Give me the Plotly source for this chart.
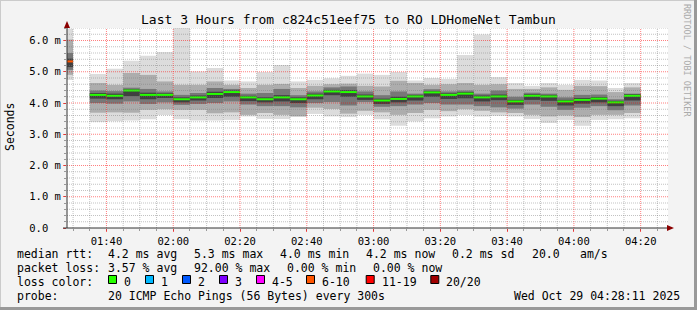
import plotly.graph_objects as go
import pandas as pd

# ---------------- data (values in milliseconds) ----------------
# 5-minute intervals starting 01:25; index 1 (01:30-01:35) has no data
interval_start = pd.date_range("2025-10-29 01:25:00", periods=35, freq="5min")

ping_max = [6.38, None, 4.93, 5.10, 5.35, 5.51, 5.63, 6.40, 5.01, 5.12, 4.72, 4.69, 4.99, 5.22,
            4.69, 4.74, 4.79, 4.87, 4.94, 4.90, 4.99, 4.72, 4.80, 4.77, 5.54, 6.19, 4.83, 4.64,
            4.55, 4.64, 4.58, 4.74, 4.72, 4.48, 4.64]
ping_p90 = [6.03, None, 4.64, 4.58, 4.96, 4.90, 4.69, 4.58, 4.58, 4.69, 4.58, 4.48, 4.58, 4.61,
            4.48, 4.55, 4.60, 4.62, 4.55, 4.53, 4.71, 4.64, 4.58, 4.60, 4.64, 4.58, 4.60, 4.45,
            4.45, 4.50, 4.42, 4.55, 4.54, 4.35, 4.50]
ping_p75 = [5.60, None, 4.40, 4.38, 4.49, 4.45, 4.37, 4.26, 4.32, 4.48, 4.45, 4.30, 4.32, 4.45,
            4.25, 4.37, 4.50, 4.53, 4.37, 4.25, 4.37, 4.30, 4.44, 4.37, 4.40, 4.30, 4.40, 4.20,
            4.33, 4.30, 4.18, 4.26, 4.27, 4.12, 4.30]
ping_p60 = [5.42, None, 4.32, 4.30, 4.44, 4.33, 4.31, 4.18, 4.24, 4.36, 4.40, 4.23, 4.18, 4.25,
            4.18, 4.30, 4.42, 4.41, 4.27, 4.14, 4.20, 4.26, 4.38, 4.31, 4.35, 4.24, 4.27, 4.10,
            4.28, 4.26, 4.10, 4.16, 4.19, 4.07, 4.28]
median   = [5.33, None, 4.26, 4.23, 4.40, 4.26, 4.26, 4.12, 4.18, 4.29, 4.35, 4.18, 4.12, 4.18,
            4.12, 4.24, 4.37, 4.35, 4.21, 4.08, 4.13, 4.21, 4.34, 4.26, 4.30, 4.18, 4.21, 4.05,
            4.23, 4.21, 4.05, 4.10, 4.14, 4.02, 4.23]
ping_p40 = [5.15, None, 4.14, 4.12, 4.22, 4.12, 4.16, 4.02, 4.08, 4.16, 4.20, 4.06, 4.02, 4.05,
            4.00, 4.12, 4.25, 4.20, 4.10, 3.97, 4.02, 4.08, 4.20, 4.13, 4.15, 4.05, 4.09, 3.94,
            4.10, 4.07, 3.92, 3.98, 4.02, 3.90, 4.08]
ping_p25 = [5.06, None, 4.00, 3.98, 4.05, 3.97, 4.02, 3.94, 3.97, 4.00, 4.05, 3.95, 3.90, 3.90,
            3.86, 4.00, 4.03, 3.92, 4.03, 3.88, 3.90, 3.95, 4.00, 3.95, 3.95, 3.90, 3.86, 3.82,
            3.95, 3.88, 3.78, 3.85, 3.90, 3.77, 3.92]
ping_p10 = [4.90, None, 3.69, 3.70, 3.69, 3.78, 3.80, 3.78, 3.78, 3.67, 3.70, 3.62, 3.68, 3.62,
            3.57, 3.85, 3.81, 3.66, 3.75, 3.70, 3.62, 3.68, 3.78, 3.74, 3.80, 3.75, 3.70, 3.68,
            3.62, 3.57, 3.60, 3.55, 3.62, 3.62, 3.68]
ping_min = [4.74, None, 3.39, 3.42, 3.44, 3.48, 3.62, 3.48, 3.44, 3.44, 3.46, 3.57, 3.49, 3.49,
            3.57, 3.65, 3.57, 3.55, 3.62, 3.48, 3.27, 3.41, 3.51, 3.57, 3.62, 3.57, 3.59, 3.57,
            3.49, 3.36, 3.46, 3.27, 3.46, 3.48, 3.51]
# lost pings (of 20) per interval
lost = [8, None, 0, 0, 0, 0, 0, 0, 0, 0, 0, 0, 0, 0, 0, 0, 0, 0, 0, 0, 0, 0, 0, 0, 0, 0, 0, 0,
        0, 0, 0, 0, 0, 0, 0]

y_tick_vals = [0, 1, 2, 3, 4, 5, 6]
y_tick_text = ["0.0\u00a0\u00a0", "1.0 m", "2.0 m", "3.0 m", "4.0 m", "5.0 m", "6.0 m"]
x_tick_text = ["01:40", "02:00", "02:20", "02:40", "03:00", "03:20", "03:40", "04:00", "04:20"]

loss_labels = ["0", "1", "2", "3", "4-5", "6-10", "11-19", "20/20"]
loss_colors = ["#26ff00", "#00b8ff", "#0059ff", "#7e00ff", "#ff00ff", "#ff5500", "#ff0000", "#a10000"]
loss_upper = [0, 1, 2, 3, 5, 10, 19, 20]

title_text = "Last 3 Hours from c824c51eef75 to RO LDHomeNet Tambun"
legend_rows = [
    [(16, "median rtt:"), (107, "4.2 ms avg"), (193, "5.3 ms max"), (279, "4.0 ms min"),
     (365, "4.2 ms now"), (451, "0.2 ms sd"), (530.7, "20.0"), (579, "am/s")],
    [(16, "packet loss:"), (107, "3.57 % avg"), (193, "92.00 % max"), (286, "0.00 % min"),
     (372, "0.00 % now")],
    [(16, "loss color:")],
    [(16, "probe:"), (107, "20 ICMP Echo Pings (56 Bytes) every 300s"),
     (513.3, "Wed Oct 29 04:28:11 2025")],
]
legend_row_y = [254.3, 268.3, 282.3, 296.2]
loss_text_x = [123, 160, 197, 234, 271, 321, 380.7, 445.3]

# ---------------- geometry ----------------
W, H = 697, 310
L, R, T, B = 67, 668, 28, 228
PW, PH = R - L, B - T
t0 = pd.Timestamp("2025-10-29 01:28:11")
t1 = pd.Timestamp("2025-10-29 04:28:11")
step = pd.Timedelta("5min")


def pxx(x):
    return (x - L) / PW


def pxy(y):
    return (B - y) / PH


MONO = "DejaVu Sans Mono"
fig = go.Figure()

centers = [s + step / 2 for s in interval_start]
layers = [
    (ping_max, ping_min, "#dcdcdc"),
    (ping_p90, ping_p10, "#adadad"),
    (ping_p75, ping_p25, "#777777"),
    (ping_p60, ping_p40, "#404040"),
]
for hi, lo, col in layers:
    hgt = [None if (h is None or l is None) else h - l for h, l in zip(hi, lo)]
    fig.add_trace(go.Bar(x=centers, y=hgt, base=lo, width=step.total_seconds() * 1000,
                         marker=dict(color=col, line=dict(width=0)), showlegend=False,
                         hoverinfo="skip"))


def loss_color(n):
    for up, c in zip(loss_upper, loss_colors):
        if n <= up:
            return c
    return loss_colors[-1]


# median lines, grouped by loss colour
groups = {}
for s, m, n in zip(interval_start, median, lost):
    if m is None:
        continue
    c = loss_color(n)
    gx, gy = groups.setdefault(c, ([], []))
    gx += [s, s + step, None]
    gy += [m, m, None]
for c, (gx, gy) in groups.items():
    fig.add_trace(go.Scatter(x=gx, y=gy, mode="lines", line=dict(color=c, width=2),
                             showlegend=False, hoverinfo="skip"))

shapes = []
# grid on top of smoke
DOT = "1px,1px"
minor_col = "rgba(120,120,120,0.45)"
major_col = "rgba(255,0,0,0.5)"
k = 1
while k * 0.2 < 6.4 + 1e-9:
    v = round(k * 0.2, 3)
    is_major = abs(v - round(v)) < 1e-9
    shapes.append(dict(type="line", xref="paper", yref="y", x0=0, x1=1, y0=v, y1=v,
                       line=dict(color=major_col if is_major else minor_col, width=1, dash=DOT),
                       layer="above"))
    k += 1
tt = pd.Timestamp("2025-10-29 01:30:00")
while tt <= t1:
    is_major = tt.minute % 20 == 0
    shapes.append(dict(type="line", xref="x", yref="paper", x0=tt, x1=tt, y0=0, y1=1,
                       line=dict(color=major_col if is_major else minor_col, width=1, dash=DOT),
                       layer="above"))
    tt += step

AX = "#333333"
ARW = "#8b0000"
# axes lines
shapes.append(dict(type="line", xref="paper", yref="paper", x0=pxx(L - 4), x1=pxx(672), y0=0, y1=0,
                   line=dict(color=AX, width=1), layer="above"))
shapes.append(dict(type="line", xref="paper", yref="paper", x0=0, x1=0, y0=0, y1=pxy(24),
                   line=dict(color=AX, width=1), layer="above"))
# arrows
shapes.append(dict(type="path", xref="paper", yref="paper",
                   path=f"M {pxx(667)},{pxy(225)} L {pxx(674)},{pxy(228)} L {pxx(667)},{pxy(231)} Z",
                   fillcolor=ARW, line=dict(color=ARW, width=0), layer="above"))
shapes.append(dict(type="path", xref="paper", yref="paper",
                   path=f"M {pxx(64)},{pxy(28)} L {pxx(67)},{pxy(21)} L {pxx(70)},{pxy(28)} Z",
                   fillcolor=ARW, line=dict(color=ARW, width=0), layer="above"))
# legend colour boxes
for tx, c in zip(loss_text_x, loss_colors):
    shapes.append(dict(type="rect", xref="paper", yref="paper",
                       x0=pxx(tx - 14.5), x1=pxx(tx - 6.5), y0=pxy(283.5), y1=pxy(275.5),
                       fillcolor=c, line=dict(color="#000000", width=1), layer="above"))
# frame
shapes.append(dict(type="line", xref="paper", yref="paper", x0=pxx(0), x1=pxx(W), y0=pxy(0.5), y1=pxy(0.5),
                   line=dict(color="#cbcbcb", width=1)))
shapes.append(dict(type="line", xref="paper", yref="paper", x0=pxx(0.5), x1=pxx(0.5), y0=pxy(0), y1=pxy(H),
                   line=dict(color="#cbcbcb", width=1)))
shapes.append(dict(type="line", xref="paper", yref="paper", x0=pxx(0), x1=pxx(W), y0=pxy(H - 1.5), y1=pxy(H - 1.5),
                   line=dict(color="#999999", width=3)))
shapes.append(dict(type="line", xref="paper", yref="paper", x0=pxx(W - 1.5), x1=pxx(W - 1.5), y0=pxy(0), y1=pxy(H),
                   line=dict(color="#999999", width=3)))

annotations = []
annotations.append(dict(text=title_text, xref="paper", yref="paper", x=pxx(348.5), y=pxy(19),
                        xanchor="center", yanchor="middle", showarrow=False,
                        font=dict(family=MONO, size=13, color="#000000")))
annotations.append(dict(text="Seconds", xref="paper", yref="paper", x=pxx(10), y=pxy(127),
                        xanchor="center", yanchor="middle", showarrow=False, textangle=-90,
                        font=dict(family=MONO, size=11.5, color="#000000")))
annotations.append(dict(text="RRDTOOL / TOBI OETIKER", xref="paper", yref="paper", x=pxx(687), y=pxy(60),
                        xanchor="center", yanchor="middle", showarrow=False, textangle=90,
                        font=dict(family=MONO, size=8.5, color="#aaaaaa")))
for row, yy in zip(legend_rows, legend_row_y):
    for xx, txt in row:
        annotations.append(dict(text=txt, xref="paper", yref="paper", x=pxx(xx), y=pxy(yy),
                                xanchor="left", yanchor="middle", showarrow=False, borderpad=0,
                                font=dict(family=MONO, size=11.5, color="#000000")))
for xx, txt in zip(loss_text_x, loss_labels):
    annotations.append(dict(text=txt, xref="paper", yref="paper", x=pxx(xx), y=pxy(legend_row_y[2]),
                            xanchor="left", yanchor="middle", showarrow=False, borderpad=0,
                            font=dict(family=MONO, size=11.5, color="#000000")))

x_tick_vals = [pd.Timestamp("2025-10-29 " + s) for s in x_tick_text]

fig.update_layout(
    width=W, height=H,
    margin=dict(l=L, r=W - R, t=T, b=H - B, pad=0),
    paper_bgcolor="#f3f3f3", plot_bgcolor="#ffffff",
    barmode="overlay", showlegend=False,
    shapes=shapes, annotations=annotations,
    xaxis=dict(type="date", range=[t0, t1], tickvals=x_tick_vals, ticktext=x_tick_text,
               showgrid=False, zeroline=False, showline=False,
               ticks="outside", ticklen=3, tickcolor="rgba(255,0,0,0.6)",
               minor=dict(ticks="outside", ticklen=2, tickcolor="#999999", dtick=300000,
                          tick0="2025-10-29 01:25:00", showgrid=False),
               tickfont=dict(family=MONO, size=10.5, color="#000000"), fixedrange=True),
    yaxis=dict(range=[0, 6.4], tickvals=y_tick_vals, ticktext=y_tick_text,
               showgrid=False, zeroline=False, showline=False,
               ticks="outside", ticklen=3, tickcolor="rgba(255,0,0,0.6)",
               minor=dict(ticks="outside", ticklen=2, tickcolor="#999999", dtick=0.2, showgrid=False),
               tickfont=dict(family=MONO, size=10.5, color="#000000"), fixedrange=True),
)

fig.write_html("out.html", config={"displayModeBar": False})
